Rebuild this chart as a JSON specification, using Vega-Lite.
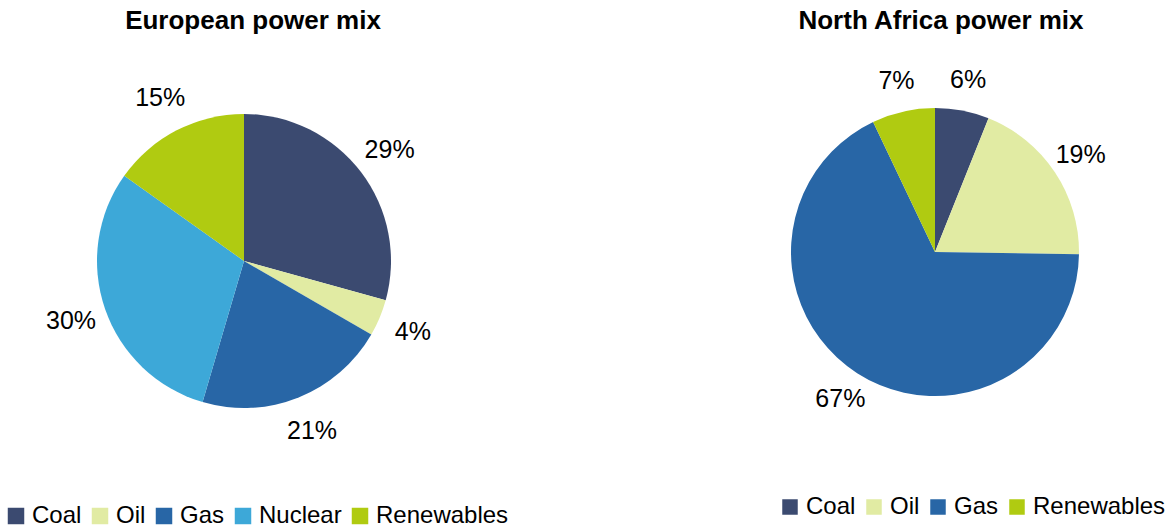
{
  "$schema": "https://vega.github.io/schema/vega-lite/v6.json",
  "padding": {"left": 0, "top": 8, "right": 0, "bottom": 0},
  "background": "white",
  "config": {
    "view": {"stroke": null},
    "font": "Liberation Sans",
    "title": {"fontSize": 26, "fontWeight": "bold", "color": "black", "font": "Liberation Sans", "offset": 5},
    "legend": {
      "padding": 0,
      "labelFont": "Liberation Sans",
      "labelFontSize": 24,
      "labelColor": "black",
      "labelOffset": 4,
      "columnPadding": 6,
      "symbolType": "square",
      "symbolStrokeWidth": 0,
      "symbolOpacity": 1
    }
  },
  "datasets": {
    "eu": [
      {"source": "Coal", "share": 0.29, "k": 1},
      {"source": "Oil", "share": 0.04, "k": 2},
      {"source": "Gas", "share": 0.21, "k": 3},
      {"source": "Nuclear", "share": 0.30, "k": 4},
      {"source": "Renewables", "share": 0.15, "k": 5}
    ],
    "na": [
      {"source": "Coal", "share": 0.06, "k": 1},
      {"source": "Oil", "share": 0.19, "k": 2},
      {"source": "Gas", "share": 0.67, "k": 3},
      {"source": "Renewables", "share": 0.07, "k": 4}
    ]
  },
  "spacing": 247,
  "bounds": "flush",
  "resolve": {"scale": {"color": "independent"}, "legend": {"color": "independent"}},
  "hconcat": [
    {
      "width": 488,
      "height": 448,
      "title": {"text": "European power mix", "dx": 9, "dy": 2},
      "data": {"name": "eu"},
      "encoding": {
        "theta": {"field": "share", "type": "quantitative", "stack": true},
        "order": {"field": "k", "type": "quantitative"}
      },
      "layer": [
        {
          "mark": {"type": "arc", "outerRadius": 147},
          "encoding": {
            "color": {
              "field": "source",
              "type": "nominal",
              "scale": {
                "domain": ["Coal", "Oil", "Gas", "Nuclear", "Renewables"],
                "range": ["#3B4A70", "#E1EBA3", "#2866A6", "#3DA8D8", "#B0CB11"]
              },
              "legend": {
                "orient": "none",
                "direction": "horizontal",
                "title": null,
                "legendX": 4,
                "legendY": 467,
                "symbolSize": 272
              }
            }
          }
        },
        {
          "mark": {"type": "text", "radius": 183, "fontSize": 25, "color": "black", "font": "Liberation Sans"},
          "encoding": {
            "text": {"field": "share", "type": "quantitative", "format": ".0%"}
          }
        }
      ]
    },
    {
      "width": 400,
      "height": 430,
      "title": {"text": "North Africa power mix", "dx": 6, "dy": 2},
      "data": {"name": "na"},
      "encoding": {
        "theta": {"field": "share", "type": "quantitative", "stack": true},
        "order": {"field": "k", "type": "quantitative"}
      },
      "layer": [
        {
          "mark": {"type": "arc", "outerRadius": 144},
          "encoding": {
            "color": {
              "field": "source",
              "type": "nominal",
              "scale": {
                "domain": ["Coal", "Oil", "Gas", "Renewables"],
                "range": ["#3B4A70", "#E1EBA3", "#2866A6", "#B0CB11"]
              },
              "legend": {
                "orient": "none",
                "direction": "horizontal",
                "title": null,
                "legendX": 43,
                "legendY": 458,
                "symbolSize": 240
              }
            }
          }
        },
        {
          "mark": {"type": "text", "radius": 175, "fontSize": 25, "color": "black", "font": "Liberation Sans"},
          "encoding": {
            "text": {"field": "share", "type": "quantitative", "format": ".0%"}
          }
        }
      ]
    }
  ]
}
